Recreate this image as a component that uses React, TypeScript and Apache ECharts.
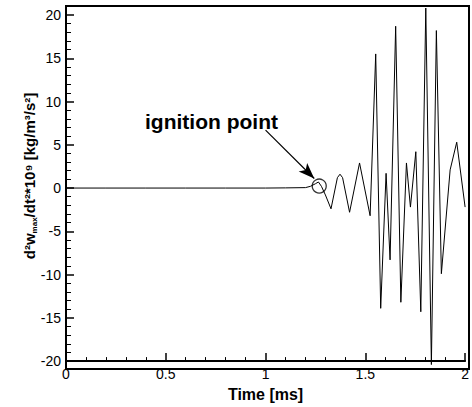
import React, { useEffect, useRef } from "react";
import * as echarts from "echarts";

const timeMs = [
  0, 0.2, 0.4, 0.6, 0.8, 1.0, 1.1, 1.2, 1.225, 1.25, 1.265, 1.28, 1.3, 1.328,
  1.36, 1.373, 1.386, 1.421, 1.471, 1.524, 1.552, 1.577, 1.604, 1.624, 1.652,
  1.678, 1.706, 1.726, 1.753, 1.778, 1.803, 1.831, 1.856, 1.881, 1.925, 1.958, 2.0,
];
const accel = [
  0, 0, 0, 0, 0, 0, 0.02, 0.05, 0.2, 0.5, 0.7, 0.2, -0.8, -2.4,
  1.2, 1.6, 1.2, -2.8, 2.9, -3.2, 15.5, -13.9, 1.7, -8.3, 18.7,
  -13.2, 2.9, -2.2, 4.2, -14.3, 20.8, -20.4, 18.2, -9.9, 2.1, 5.3, -2.2,
];
const ignitionPoint = [1.269, 0.23];
const arrowFrom = [1.0, 6.7];
const arrowTo = [1.244, 1.1];
const xTicks = [0, 0.5, 1, 1.5, 2];
const yTicks = [-20, -15, -10, -5, 0, 5, 10, 15, 20];

const FONT = "'Liberation Sans', Arial, sans-serif";

export default function App() {
  const ref = useRef<HTMLDivElement>(null);
  useEffect(() => {
    document.body.style.margin = "0";
    const chart = echarts.init(ref.current!, null, { renderer: "svg" });
    const lineData = timeMs.map((t, i) => [t, accel[i]]);
    chart.setOption({
      animation: false,
      backgroundColor: "#fff",
      grid: { left: 66, right: 3, top: 15, bottom: 38 },
      xAxis: {
        type: "value",
        min: xTicks[0],
        max: xTicks[xTicks.length - 1],
        interval: 0.5,
        name: "Time [ms]",
        nameLocation: "middle",
        nameGap: 20,
        nameTextStyle: { color: "#000", fontSize: 16, fontWeight: "bold", fontFamily: FONT },
        axisLine: { onZero: false, lineStyle: { color: "#000", width: 2 } },
        axisTick: { inside: true, length: 8, lineStyle: { color: "#000", width: 1.5 } },
        minorTick: { show: true, splitNumber: 5, length: 4, lineStyle: { color: "#000", width: 1 } },
        splitLine: { show: false },
        axisLabel: { color: "#000", fontSize: 14, margin: 6, fontFamily: FONT },
      },
      yAxis: {
        type: "value",
        min: yTicks[0],
        max: yTicks[yTicks.length - 1],
        interval: 5,
        axisLine: { onZero: false, lineStyle: { color: "#000", width: 2 } },
        axisTick: { inside: true, length: 8, lineStyle: { color: "#000", width: 1.5 } },
        minorTick: { show: true, splitNumber: 5, length: 5, lineStyle: { color: "#000", width: 1 } },
        splitLine: { show: false },
        axisLabel: { color: "#000", fontSize: 14, margin: 5, fontFamily: FONT },
      },
      graphic: [
        {
          type: "rect",
          shape: { x: 66, y: 6, width: 403, height: 363 },
          style: { fill: "none", stroke: "#000", lineWidth: 2 },
          z: 10,
          silent: true,
        },
        {
          type: "text",
          x: 145,
          y: 121,
          style: {
            text: "ignition point",
            fill: "#000",
            font: `bold 21px ${FONT}`,
            textAlign: "left",
            textVerticalAlign: "middle",
          },
        },
        {
          type: "text",
          x: 29,
          y: 176,
          rotation: Math.PI / 2,
          style: {
            text: "{a|d²w}{s|max}{a|/dt²*10⁹ [kg/m³/s²]}",
            fill: "#000",
            textAlign: "center",
            textVerticalAlign: "middle",
            rich: {
              a: { fontSize: 15, fontWeight: "bold", fontFamily: FONT, lineHeight: 18, fill: "#000", color: "#000" },
              s: { fontSize: 8, fontWeight: "bold", fontFamily: FONT, lineHeight: 10, verticalAlign: "bottom", fill: "#000", color: "#000" },
            },
          },
        },
      ],
      series: [
        {
          type: "line",
          data: lineData,
          clip: false,
          showSymbol: false,
          symbol: "none",
          lineStyle: { color: "#000", width: 1 },
          markLine: {
            silent: true,
            animation: false,
            label: { show: false },
            lineStyle: { color: "#000", width: 1.2, type: "solid" },
            data: [
              [
                { coord: arrowFrom, symbol: "none" },
                { coord: arrowTo, symbol: "arrow", symbolSize: [9, 16] },
              ],
            ],
          },
        },
        {
          type: "scatter",
          data: [ignitionPoint],
          symbol: "circle",
          symbolSize: 14,
          itemStyle: { color: "transparent", borderColor: "#000", borderWidth: 1.3 },
          z: 5,
        },
      ],
    });
    return () => chart.dispose();
  }, []);
  return <div ref={ref} style={{ width: 472, height: 407 }} />;
}
